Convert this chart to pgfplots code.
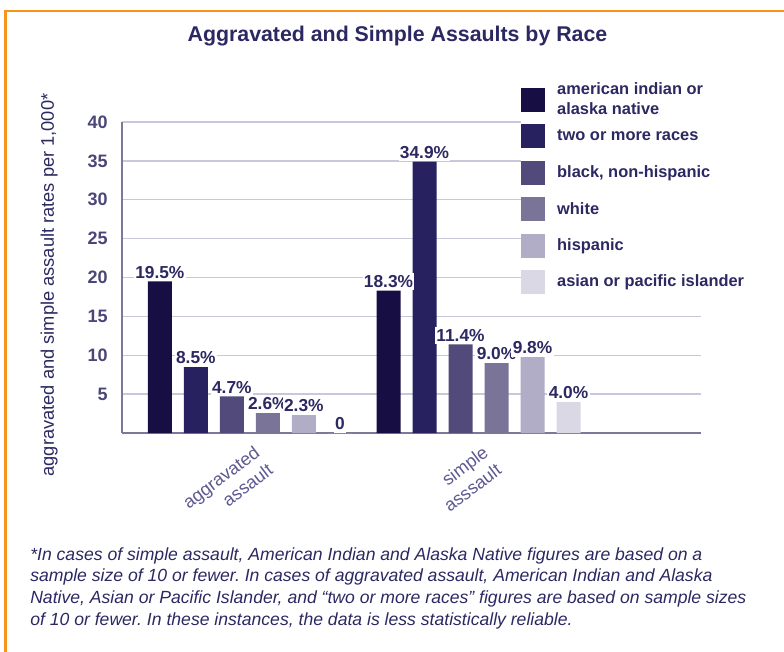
\documentclass[border=0pt]{standalone}
\usepackage{pgfplots}
\pgfplotsset{compat=1.18}
\usepackage{fontspec}
\setmainfont{Liberation Sans}
\frenchspacing

\definecolor{c1}{HTML}{170F43}
\definecolor{c2}{HTML}{27215F}
\definecolor{c3}{HTML}{514A7B}
\definecolor{c4}{HTML}{7B7499}
\definecolor{c5}{HTML}{B1ADC6}
\definecolor{c6}{HTML}{DAD8E4}
\definecolor{txt}{HTML}{2B2862}
\definecolor{tickc}{HTML}{4B4679}
\definecolor{xlabc}{HTML}{5D5891}
\definecolor{axisc}{HTML}{7D7799}
\definecolor{gridc}{HTML}{C9C7D9}
\definecolor{frame}{HTML}{F7941D}

\begin{document}
\begin{tikzpicture}
\useasboundingbox (0,0) rectangle (588pt,488.25pt);
% orange frame, top and left side only
\draw[line width=2pt, color=frame] (4pt,-5pt) -- (4pt,480pt) -- (600pt,480pt);
\node[anchor=base, text=txt, font=\bfseries\fontsize{16}{19}\selectfont] at (298.1pt,456.75pt)
  {Aggravated and Simple Assaults by Race};

\begin{axis}[
  at={(91.5pt,163.5pt)}, anchor=south west,
  scale only axis, width=434.25pt, height=233.25pt,
  ybar=9pt, bar width=18pt,
  xmin=-0.559, xmax=1.973, ymin=0, ymax=40, enlargelimits=false,
  axis lines*=left, axis line style={-, line width=1.5pt, color=axisc},
  ytick={5,10,...,40}, ymajorgrids, grid style={line width=1.1pt, color=gridc},
  major tick length=0pt,
  /pgf/number format/assume math mode=true,
  yticklabel style={font=\bfseries\fontsize{13.5}{16}\selectfont, text=tickc, inner xsep=0pt, xshift=-10.5pt},
  xtick={0,1}, xticklabels={aggravated\\assault, simple\\asssault},
  xticklabel style={rotate=37, anchor=north east, align=right, yshift=-5pt,
    font=\fontsize{13.5}{16.5}\selectfont, text=xlabc},
  ylabel={aggravated and simple assault rates per 1,000*},
  ylabel style={at={(axis description cs:-0.126,0.476)}, anchor=center,
    font=\fontsize{13.7}{16}\selectfont, text=txt},
  legend style={at={(0.689,1.130)}, anchor=north west, draw=none, fill=white, inner sep=0pt, row sep=0pt,
    font=\bfseries\fontsize{12.3}{15}\selectfont, text=txt,
    nodes={inner sep=0pt, minimum height=27.3pt, align=left},
    /tikz/every odd column/.append style={column sep=9pt}},
  legend cell align=left,
  legend image code/.code={\fill[#1] (0pt,-9pt) rectangle (18pt,9pt);},
  nodes near coords, point meta=explicit symbolic,
  every node near coord/.append style={font=\bfseries\fontsize{13}{15}\selectfont, text=txt,
    fill=white, inner xsep=1pt, inner ysep=2pt},
]
\addplot[fill=c1, draw=none] coordinates {(0,19.5) [19.5\%] (1,18.3) [18.3\%]};
\addlegendentry{american indian or\\alaska native}
\addplot[fill=c2, draw=none] coordinates {(0,8.5) [8.5\%] (1,34.9) [34.9\%]};
\addlegendentry{two or more races}
\addplot[fill=c3, draw=none] coordinates {(0,4.7) [4.7\%] (1,11.4) [11.4\%]};
\addlegendentry{black, non-hispanic}
\addplot[fill=c4, draw=none] coordinates {(0,2.6) [2.6\%] (1,9.0) [9.0\%]};
\addlegendentry{white}
\addplot[fill=c5, draw=none] coordinates {(0,2.3) [2.3\%] (1,9.8) [9.8\%]};
\addlegendentry{hispanic}
\addplot[fill=c6, draw=none] coordinates {(0,0) [0] (1,4.0) [4.0\%]};
\addlegendentry{asian or pacific islander}
% small tick between the two groups
\draw[line width=0.8pt, color=gridc] (axis cs:0.5,0) ++(0,-1.5pt) -- ++(0,-6pt);
\end{axis}

\node[anchor=north west, inner sep=0pt, align=left, text=txt, font=\itshape\fontsize{13.2}{16.3}\selectfont] at (22.5pt,78pt)
  {*In cases of simple assault, American Indian and Alaska Native figures are based on a\\
   sample size of 10 or fewer. In cases of aggravated assault, American Indian and Alaska\\
   Native, Asian or Pacific Islander, and “two or more races” figures are based on sample sizes\\
   of 10 or fewer. In these instances, the data is less statistically reliable.};
\end{tikzpicture}
\end{document}
